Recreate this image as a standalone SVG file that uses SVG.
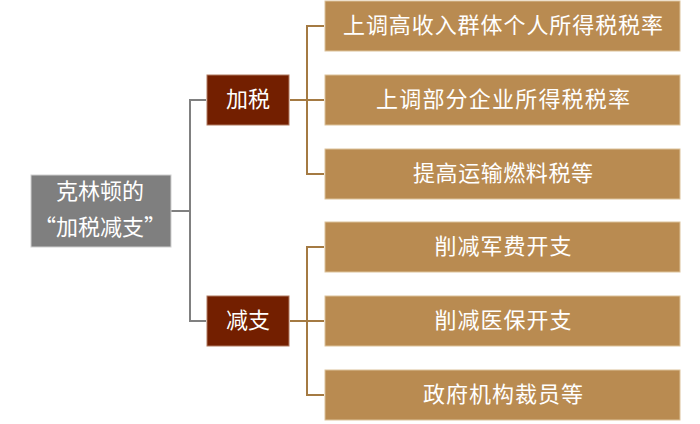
<svg xmlns="http://www.w3.org/2000/svg" width="700" height="424" viewBox="0 0 700 424">
<style>
.t{font-family:"Noto Sans CJK SC","Noto Sans CJK TC",sans-serif;font-size:22px;fill:#ffffff;text-anchor:middle;dominant-baseline:central}
.root{fill:#7f7f7f;stroke:#d0d0d0;stroke-width:1}
.mid{fill:#731f00;stroke:#b07a60;stroke-width:1}
.leaf{fill:#b98b51;stroke:#dcc29a;stroke-width:1}
.cg{stroke:#808080;stroke-width:2;fill:none}
.cb{stroke:#a47a43;stroke-width:2;fill:none}
</style>
<g id="connectors">
<path class="cg" d="M171 211H190M190 100V321M189 100H206M189 321H206"/>
<path class="cb" d="M290 100H324M307 26V174M306 26H324M306 174H324"/>
<path class="cb" d="M290 321H324M307 247V395M306 247H324M306 395H324"/>
</g>
<g id="root">
<rect class="root" x="31" y="175" width="140" height="72"/>
<text class="t" x="100" y="189">克林顿的</text>
<text class="t" x="100" y="225">“加税减支”</text>
</g>
<g id="jiashui">
<rect class="mid" x="207" y="75" width="82" height="50"/>
<text class="t" x="248" y="97">加税</text>
</g>
<g id="jianzhi">
<rect class="mid" x="207" y="296" width="82" height="50"/>
<text class="t" x="248" y="318">减支</text>
</g>
<g id="leaf1">
<rect class="leaf" x="325" y="1" width="355" height="50"/>
<text class="t" x="503" y="23" textLength="320" lengthAdjust="spacing">上调高收入群体个人所得税税率</text>
</g>
<g id="leaf2">
<rect class="leaf" x="325" y="75" width="355" height="50"/>
<text class="t" x="503" y="97" textLength="254" lengthAdjust="spacing">上调部分企业所得税税率</text>
</g>
<g id="leaf3">
<rect class="leaf" x="325" y="149" width="355" height="50"/>
<text class="t" x="503" y="171" textLength="180" lengthAdjust="spacing">提高运输燃料税等</text>
</g>
<g id="leaf4">
<rect class="leaf" x="325" y="222" width="355" height="50"/>
<text class="t" x="503" y="244" textLength="137" lengthAdjust="spacing">削减军费开支</text>
</g>
<g id="leaf5">
<rect class="leaf" x="325" y="296" width="355" height="50"/>
<text class="t" x="503" y="318" textLength="137" lengthAdjust="spacing">削减医保开支</text>
</g>
<g id="leaf6">
<rect class="leaf" x="325" y="370" width="355" height="50"/>
<text class="t" x="503" y="392" textLength="160" lengthAdjust="spacing">政府机构裁员等</text>
</g>
</svg>
